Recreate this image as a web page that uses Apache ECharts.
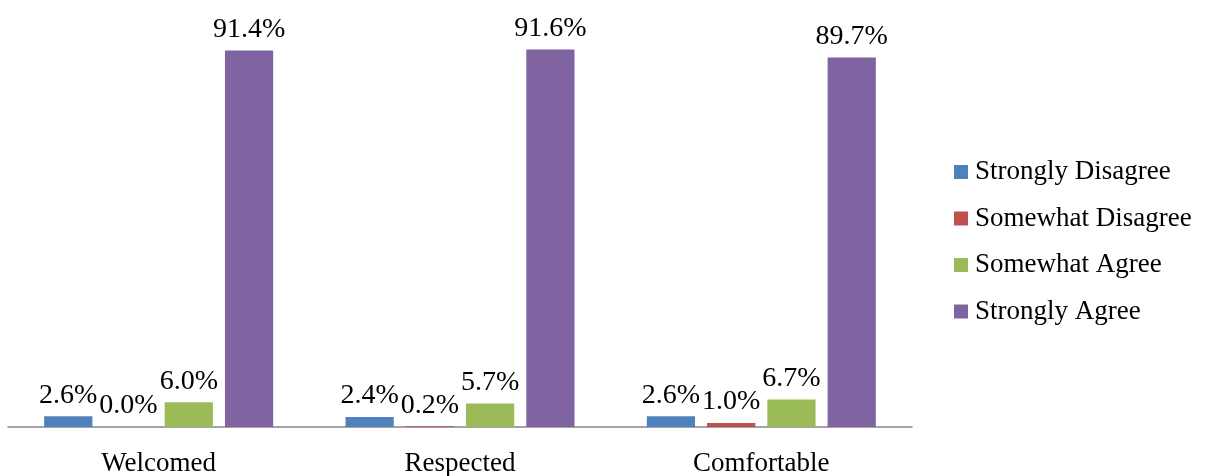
<!DOCTYPE html>
<html><head><meta charset="utf-8">
<script src="https://cdn.jsdelivr.net/npm/echarts@6/dist/echarts.min.js"></script>
<style>html,body{margin:0;padding:0;background:#fff}#c{width:1206px;height:476px}</style>
</head><body><div id="c"></div>
<script>
const categories = ['Welcomed', 'Respected', 'Comfortable'];
const seriesNames = ['Strongly Disagree', 'Somewhat Disagree', 'Somewhat Agree', 'Strongly Agree'];
const stronglyDisagree = [2.6, 2.4, 2.6];
const somewhatDisagree = [0.0, 0.2, 1.0];
const somewhatAgree = [6.0, 5.7, 6.7];
const stronglyAgree = [91.4, 91.6, 89.7];
const colors = ['#4F81BD', '#C0504D', '#9BBB59', '#8064A2'];
const values = [stronglyDisagree, somewhatDisagree, somewhatAgree, stronglyAgree];
const font = 'Liberation Serif';
const chart = echarts.init(document.getElementById('c'));
chart.setOption({
  animation: false,
  grid: { left: 8, right: 294, top: 15, bottom: 49, containLabel: false, outerBoundsMode: 'none' },
  legend: {
    orient: 'vertical', left: 949, top: 153, itemWidth: 14, itemHeight: 14, itemGap: 18.5,
    icon: 'rect',
    textStyle: { fontFamily: font, fontSize: 27, lineHeight: 28, color: '#000', padding: [0, 0, 0, 2] },
    data: seriesNames
  },
  xAxis: {
    type: 'category', data: categories,
    axisLine: { lineStyle: { color: '#868686', width: 1.5 } },
    axisTick: { show: false },
    axisLabel: { fontFamily: font, fontSize: 27, color: '#000', margin: 23 }
  },
  yAxis: { type: 'value', min: 0, max: 100, show: false, splitLine: { show: false } },
  series: seriesNames.map((n, i) => ({
    name: n, type: 'bar', data: values[i],
    barGap: '25%', barCategoryGap: '24%',
    itemStyle: { color: colors[i] },
    label: {
      show: true, position: 'top', distance: 7,
      fontFamily: font, fontSize: 28, color: '#000',
      formatter: p => p.value.toFixed(1) + '%'
    }
  }))
});
</script></body></html>
